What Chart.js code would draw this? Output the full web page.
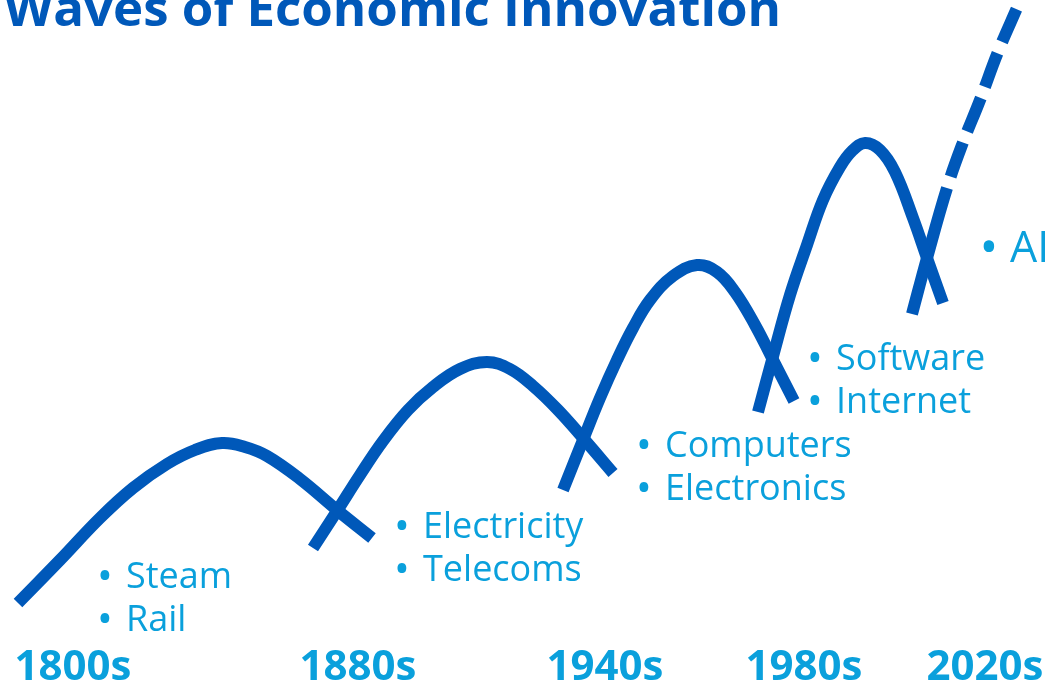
<!DOCTYPE html>
<html><head><meta charset="utf-8">
<script src="https://cdn.jsdelivr.net/npm/chart.js@4.4.1/dist/chart.umd.min.js"></script>
<style>html,body{margin:0;padding:0;background:#fff;overflow:hidden}#wrap{width:1053px;height:686px;position:relative}</style>
</head><body><div id="wrap"><canvas id="c"></canvas></div>
<script>
// ---- data ----
const chartTitle = "Waves of Economic Innovation";
const eraLabels = ["1800s", "1880s", "1940s", "1980s", "2020s"];
const eraX = [7.3, 35.8, 60.5, 80.4, 98.5];

const wave1X = [1.8, 6.0, 10.0, 13.3, 16.7, 19.5, 22.2, 24.5, 26.7, 30.0, 33.7, 37.2];
const wave1Y = [8.3, 12.6, 16.8, 19.8, 22.2, 23.6, 24.3, 23.9, 23.0, 20.7, 17.6, 14.8];
const wave2X = [31.3, 33.7, 36.0, 38.3, 40.8, 43.3, 46.0, 48.7, 51.0, 53.3, 55.8, 58.3, 61.3];
const wave2Y = [13.8, 17.5, 21.1, 24.5, 27.6, 29.9, 31.7, 32.4, 31.7, 30.0, 27.6, 24.8, 21.3];
const wave3X = [56.3, 58.3, 60.0, 61.7, 63.3, 65.0, 67.3, 69.7, 71.7, 73.5, 75.5, 77.2, 79.4];
const wave3Y = [19.6, 24.6, 28.8, 32.6, 35.8, 38.6, 41.0, 42.1, 41.4, 39.4, 36.1, 32.8, 28.5];
const wave4X = [75.8, 77.2, 79.0, 80.7, 82.3, 84.0, 85.2, 86.5, 88.0, 89.5, 91.3, 92.7, 94.3];
const wave4Y = [27.4, 32.6, 39.1, 44.1, 48.6, 51.9, 53.5, 54.3, 53.6, 51.4, 46.8, 42.8, 38.3];
const wave5X = [91.2, 92.7, 94.7, 96.2, 98.0, 99.8, 101.7];
const wave5Y = [37.2, 42.8, 49.8, 54.1, 58.6, 63.4, 67.8];
const wave5ProjectedFrom = 94.7;

const techLabels = [["Steam", "Rail"], ["Electricity", "Telecoms"], ["Computers", "Electronics"], ["Software", "Internet"], ["AI"]];
const techX = [12.6, 42.3, 66.5, 83.6, 101.0];
const techY = [9.8, 14.8, 22.9, 31.6, 42.4];

// ---- style ----
const LINE = '#0058b9';
const TEXT = '#0aa0dc';
const FONT = '"Open Sans", "Noto Sans", sans-serif';

function waveDataset(xs, ys, dashFrom) {
  const ds = {
    data: xs.map((x, i) => ({ x: x, y: ys[i] })),
    borderColor: LINE,
    borderWidth: 12,
    borderCapStyle: 'butt',
    borderJoinStyle: 'round',
    pointRadius: 0,
    fill: false,
    tension: 0.4,
    clip: false
  };
  if (dashFrom != null) {
    ds.segment = {
      borderDash: c => c.p0.parsed.x >= dashFrom - 1e-9 ? [36, 12] : undefined,
      borderDashOffset: c => c.p0.parsed.x >= dashFrom - 1e-9 ? 36 : undefined
    };
  }
  return ds;
}

const textPlugin = {
  id: 'textPlugin',
  afterDatasetsDraw(chart) {
    const ctx = chart.ctx;
    const xs = chart.scales.x, ys = chart.scales.y;
    ctx.save();
    // title
    ctx.fillStyle = LINE;
    ctx.font = 'bold 51px ' + FONT;
    ctx.textAlign = 'left';
    ctx.textBaseline = 'alphabetic';
    ctx.fillText(chartTitle, 4, 26);
    // tech labels
    techLabels.forEach((lines, i) => {
      const size = lines.length === 1 ? 43 : 36;
      const bsize = Math.round(size * 1.17);
      ctx.fillStyle = TEXT;
      const px = xs.getPixelForValue(techX[i]);
      const py = ys.getPixelForValue(techY[i]);
      lines.forEach((t, j) => {
        const yy = py + j * 43;
        ctx.font = bsize + 'px ' + FONT;
        ctx.textAlign = 'center';
        ctx.fillText('\u2022', px - 21, yy + 2);
        ctx.font = size + 'px ' + FONT;
        ctx.textAlign = 'left';
        ctx.fillText(t, px, yy);
      });
    });
    // era labels
    ctx.font = 'bold 42px ' + FONT;
    ctx.fillStyle = TEXT;
    ctx.textAlign = 'center';
    eraLabels.forEach((t, i) => {
      ctx.fillText(t, xs.getPixelForValue(eraX[i]), ys.getPixelForValue(0.6));
    });
    ctx.restore();
  }
};

function make() {
  new Chart(document.getElementById('c'), {
    type: 'line',
    data: {
      datasets: [
        waveDataset(wave1X, wave1Y),
        waveDataset(wave2X, wave2Y),
        waveDataset(wave3X, wave3Y),
        waveDataset(wave4X, wave4Y),
        waveDataset(wave5X, wave5Y, wave5ProjectedFrom)
      ]
    },
    options: {
      responsive: true,
      maintainAspectRatio: false,
      animation: false,
      events: [],
      layout: { padding: 0 },
      scales: {
        x: { type: 'linear', min: 0, max: 105.3, display: false },
        y: { type: 'linear', min: 0, max: 68.6, display: false }
      },
      plugins: { legend: { display: false }, tooltip: { enabled: false }, title: { display: false } }
    },
    plugins: [textPlugin]
  });
}

Promise.all([
  document.fonts.load('36px "Open Sans"'),
  document.fonts.load('bold 42px "Open Sans"')
]).then(make, make);
</script>
</body></html>
